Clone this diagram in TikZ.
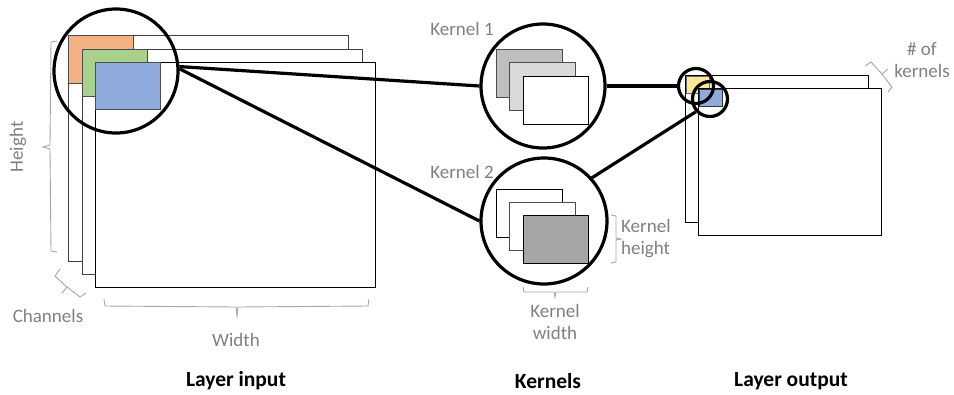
\documentclass[tikz,border=0pt]{standalone}
\usepackage{fontspec}
\setmainfont{Carlito}
\begin{document}
\begin{tikzpicture}[x=1pt,y=-1pt,
  lbl/.style={text=txtgray,font=\fontsize{19}{22}\selectfont,inner sep=0pt,align=center},
  ttl/.style={text=black,font=\fontsize{21.5}{24}\selectfont\bfseries,inner sep=0pt},
  brace/.style={draw=bracegray,line width=0.9pt},
  sheet/.style={draw=black,line width=0.9pt,fill=white},
  ksheet/.style={draw=black!70,line width=1pt},
  zoomc/.style={circle,draw=black,line width=3.2pt,inner sep=0pt,fill=none},
  link/.style={draw=black,line width=3.2pt}]
\definecolor{txtgray}{HTML}{808080}
\definecolor{bracegray}{HTML}{A6A6A6}
\definecolor{corange}{HTML}{F4B183}
\definecolor{cgreen}{HTML}{A9D18E}
\definecolor{cblue}{HTML}{8FAADC}
\definecolor{cyellow}{HTML}{FFE699}
\definecolor{kdark}{HTML}{A6A6A6}
\definecolor{kmid}{HTML}{BFBFBF}
\definecolor{klight}{HTML}{D9D9D9}
\useasboundingbox (0,0) rectangle (954,394);

% ---------- layer input ----------
\draw[sheet,draw=black!75] (68,35) rectangle (348,261);
\draw[sheet,draw=black!75] (82,49) rectangle (362,274);
\draw[sheet] (95,62) rectangle (375,287);
\draw[ksheet,fill=corange] (68,35) rectangle (133,83);
\draw[ksheet,fill=cgreen] (82,49) rectangle (147,96);
\draw[ksheet,fill=cblue] (95,62) rectangle (160,109);
\draw[draw=black!75,line width=0.9pt] (133,35) -- (348,35) -- (348,49);
\draw[draw=black!75,line width=0.9pt] (147,49) -- (362,49) -- (362,62);
\node[zoomc,minimum size=124pt] (bigc) at (116,71) {};

% braces
\draw[brace] (57,41) -- (51,42) -- (50,145) -- (43,147) -- (50,149) -- (51,251) -- (57,252);
\draw[brace] (104,299) -- (105,306) -- (236,307) -- (237,316) -- (238,307) -- (368,306) -- (369,299);
\draw[brace] (60,269) -- (55,276) -- (67,287) -- (62,293);
\draw[brace] (67,287) -- (80,297) -- (86,293);
\node[lbl,rotate=90] (hl) at (18,147) {Height};
\node[lbl] (cl) at (48,316) {Channels};
\node[lbl] (wl) at (236,340) {Width};
\node[ttl] (t1) at (236,381) {Layer input};

% ---------- kernels ----------
\node[lbl] (k1l) at (462,29) {Kernel 1};
\draw[ksheet,fill=kmid] (496,49) rectangle (562,97);
\draw[ksheet,fill=klight] (509,62) rectangle (575,110);
\draw[ksheet,draw=black,fill=white] (523,76) rectangle (588,124);
\node[zoomc,minimum size=124pt] (k1) at (543,86) {};

\node[lbl] (k2l) at (462,172) {Kernel 2};
\draw[ksheet,draw=black,fill=white] (496,189) rectangle (562,237);
\draw[ksheet,fill=white] (509,202) rectangle (575,250);
\draw[ksheet,draw=black,fill=kdark] (523,215) rectangle (588,263);
\node[zoomc,minimum size=126pt] (k2) at (544,221) {};

\draw[brace] (611,215) -- (616,216) -- (616,238) -- (621,239) -- (616,240) -- (616,262) -- (611,263);
\node[lbl,anchor=west,align=left] (khl) at (621,239) {Kernel\\height};
\draw[brace] (523,287) -- (524,292) -- (554,292) -- (555,297) -- (556,292) -- (587,292) -- (588,287);
\node[lbl] (kwl) at (555,322) {Kernel\\width};
\node[ttl] (t2) at (548,381) {Kernels};

% ---------- layer output ----------
\draw[sheet] (685,75) rectangle (868,222);
\draw[ksheet,fill=cyellow,draw=black!60] (686,76) rectangle (709,93);
\draw[sheet] (698,88) rectangle (881,235);
\draw[ksheet,fill=cblue,draw=black!80] (699,89) rectangle (722,106);
\node[zoomc,minimum size=35pt] (o1) at (696,86) {};
\node[zoomc,minimum size=35pt] (o2) at (710,99) {};

\draw[brace] (865,66) -- (871,62) -- (882,74) -- (888,69);
\draw[brace] (882,74) -- (892,87) -- (888,92);
\node[lbl] (nkl) at (922,60) {\# of\\kernels};
\node[ttl] (t3) at (791,381) {Layer output};

% ---------- connectors ----------
\draw[link] (bigc.4) -- (k1.west);
\draw[link] (bigc.2) -- (k2.west);
\draw[link] (k1.east) -- (o1.west);
\draw[link] (k2.42) -- (o2.222);
\end{tikzpicture}
\end{document}
